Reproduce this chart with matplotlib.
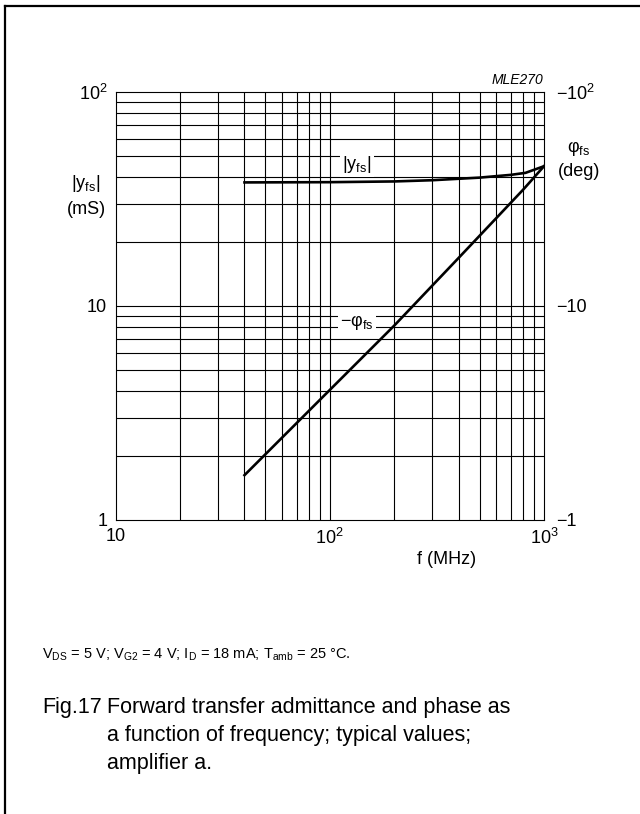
import matplotlib
matplotlib.use("Agg")
import matplotlib.pyplot as plt
from matplotlib.lines import Line2D
import numpy as np

plt.rcParams['font.family'] = ['Liberation Sans', 'DejaVu Sans']
plt.rcParams['mathtext.fontset'] = 'custom'
plt.rcParams['mathtext.rm'] = 'Liberation Sans'
plt.rcParams['mathtext.it'] = 'Liberation Sans'
plt.rcParams['mathtext.default'] = 'regular'

# data
freq_yfs = [40, 100, 200, 300, 500, 700, 820, 1000]
yfs_mS = [37.8, 37.9, 38.2, 38.7, 39.8, 41.0, 41.9, 45.0]

freq_phi = [40, 100, 200, 400, 600, 800, 1000]
phi_deg = [1.62, 4.05, 8.1, 16.8, 25.8, 35.0, 45.0]

xticks = [10, 100, 1000]
xticklabels = ['10', '$10^2$', '$10^3$']
yticks = [1, 10, 100]
yticklabels = ['1', '10', '$10^2$']
rticklabels = ['\u22121', '\u221210', '\u2212$10^2$']

W, H = 640, 814
fig = plt.figure(figsize=(W / 100, H / 100), dpi=100)
L, R, T, B = 115.5, 544, 92, 520
ax = fig.add_axes([L / W, 1 - B / H, (R - L) / W, (B - T) / H])
ax.set_xscale('log')
ax.set_yscale('log')
ax.set_xlim(10, 1000)
ax.set_ylim(1, 100)

# grid
for dec in [10, 100]:
    for m in range(2, 10):
        ax.axvline(dec * m, color='black', lw=0.8, zorder=1)
for dec in [1, 10]:
    for m in range(2, 10):
        ax.axhline(dec * m, color='black', lw=0.8, zorder=1)
ax.axvline(100, color='black', lw=0.8, zorder=1)
ax.axhline(10, color='black', lw=0.8, zorder=1)
for s in ax.spines.values():
    s.set_linewidth(0.8)

ax.plot(freq_yfs, yfs_mS, color='black', lw=1.9, zorder=3)
ax.plot(freq_phi, phi_deg, color='black', lw=1.9, zorder=3)

ax.set_xticks(xticks)
ax.set_xticklabels(xticklabels)
ax.set_yticks(yticks)
ax.set_yticklabels(yticklabels)
ax.minorticks_off()
ax.tick_params(length=0, labelsize=13, pad=6)

ax2 = ax.twinx()
ax2.set_yscale('log')
ax2.set_ylim(1, 100)
ax2.set_yticks(yticks)
ax2.set_yticklabels(rticklabels)
ax2.minorticks_off()
ax2.tick_params(length=0, labelsize=13, pad=9)
for s in ax2.spines.values():
    s.set_visible(False)

# curve labels breaking the grid
ax.text(134, 46, '$|y_{fs}|$', fontsize=13, ha='center', va='center', zorder=2,
        bbox=dict(facecolor='white', edgecolor='none', pad=1.5))
ax.text(134, 8.4, '\u2212$\u03c6_{fs}$', fontsize=13, ha='center', va='center', zorder=2,
        bbox=dict(facecolor='white', edgecolor='none', pad=1.5))

# axis titles
fig.text(86 / W, 1 - 183 / H, '$|y_{fs}|$', fontsize=13, ha='center', va='center')
fig.text(86 / W, 1 - 209 / H, '(mS)', fontsize=13, ha='center', va='center')
fig.text(579 / W, 1 - 148 / H, '$\u03c6_{fs}$', fontsize=13, ha='center', va='center')
fig.text(579 / W, 1 - 172 / H, '(deg)', fontsize=13, ha='center', va='center')
fig.text(447 / W, 1 - 560 / H, 'f (MHz)', fontsize=13, ha='center', va='center')
fig.text(543 / W, 1 - 80 / H, 'MLE270', fontsize=10, style='italic', ha='right', va='center')

fig.text(42 / W, 1 - 655 / H,
         'V$_{DS}$ = 5 V; V$_{G2}$ = 4 V; I$_D$ = 18 mA; T$_{amb}$ = 25 \u00b0C.',
         fontsize=10.5, ha='left', va='center')
fig.text(42 / W, 1 - 707 / H, 'Fig.17', fontsize=15.5, ha='left', va='center')
fig.text(107 / W, 1 - 707 / H, 'Forward transfer admittance and phase as', fontsize=15.5, ha='left', va='center')
fig.text(107 / W, 1 - 735 / H, 'a function of frequency; typical values;', fontsize=15.5, ha='left', va='center')
fig.text(107 / W, 1 - 763 / H, 'amplifier a.', fontsize=15.5, ha='left', va='center')

# frame
fig.add_artist(Line2D([5 / W, 5 / W], [0, 1 - 6 / H], color='black', lw=1.6, transform=fig.transFigure))
fig.add_artist(Line2D([5 / W, 1], [1 - 6 / H, 1 - 6 / H], color='black', lw=1.6, transform=fig.transFigure))

fig.savefig('out.png', dpi=100)
